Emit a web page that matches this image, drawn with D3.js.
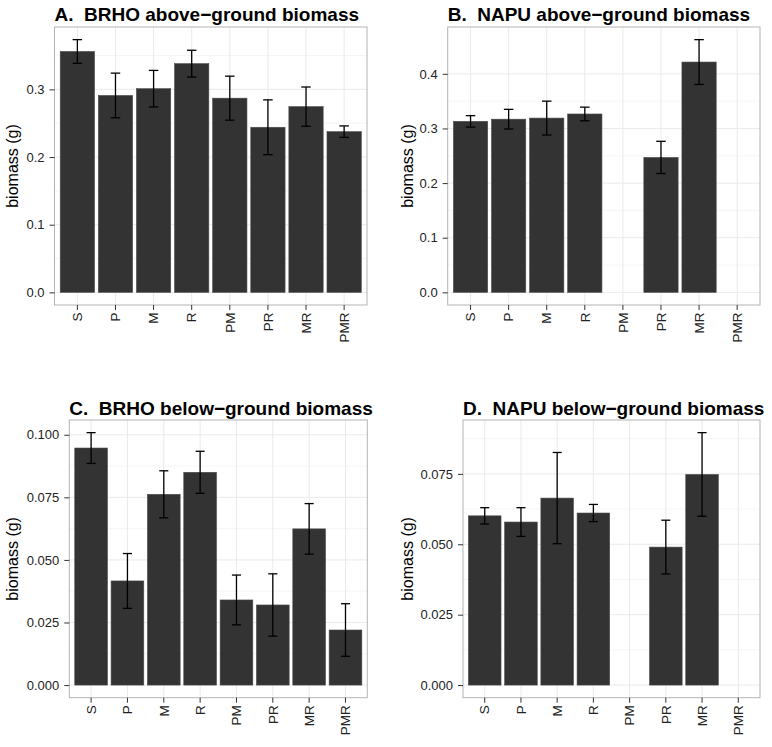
<!DOCTYPE html>
<html>
<head>
<meta charset="utf-8">
<script src="https://cdn.jsdelivr.net/npm/d3@7/dist/d3.min.js"></script>
<style>
  html, body { margin: 0; padding: 0; background: #fff; }
  svg { display: block; }
  text { font-family: "Liberation Sans", Arial, Helvetica, sans-serif; }
</style>
</head>
<body>
<svg id="chart" width="772" height="747"></svg>
<script>
// ---------------- data ----------------
const categories = ["S", "P", "M", "R", "PM", "PR", "MR", "PMR"];

const brhoAboveMean = [0.356, 0.291, 0.301, 0.338, 0.287, 0.244, 0.2745, 0.2375];
const brhoAboveSE   = [0.0175, 0.033, 0.027, 0.0198, 0.0325, 0.0405, 0.029, 0.0085];

const napuAboveMean = [0.313, 0.317, 0.319, 0.3265, null, 0.247, 0.4216, null];
const napuAboveSE   = [0.0105, 0.018, 0.031, 0.0125, null, 0.0295, 0.041, null];

const brhoBelowMean = [0.0947, 0.0416, 0.0762, 0.0850, 0.0340, 0.0320, 0.0624, 0.0220];
const brhoBelowSE   = [0.00615, 0.01095, 0.0094, 0.0084, 0.00995, 0.01245, 0.0101, 0.0105];

const napuBelowMean = [0.0601, 0.0579, 0.0664, 0.0611, null, 0.0490, 0.0748, null];
const napuBelowSE   = [0.0029, 0.0051, 0.0162, 0.00305, null, 0.00955, 0.01485, null];

const titles = [
  "A.  BRHO above\u2212ground biomass",
  "B.  NAPU above\u2212ground biomass",
  "C.  BRHO below\u2212ground biomass",
  "D.  NAPU below\u2212ground biomass"
];
const ticksAbove = [0, 0.1, 0.2, 0.3, 0.4];
const ticksBelow = [0, 0.025, 0.05, 0.075, 0.1];
const yLabel = "biomass (g)";

// ---------------- layout ----------------
const panels = [
  { mean: brhoAboveMean, se: brhoAboveSE, title: titles[0], ticks: ticksAbove, fmt: d3.format(".1f"),
    left: 54.5, right: 367, top: 27, bottom: 305, titleY: 20.5, labelX: 17.5 },
  { mean: napuAboveMean, se: napuAboveSE, title: titles[1], ticks: ticksAbove, fmt: d3.format(".1f"),
    left: 447.7, right: 760, top: 27, bottom: 305, titleY: 20.5, labelX: 412.5 },
  { mean: brhoBelowMean, se: brhoBelowSE, title: titles[2], ticks: ticksBelow, fmt: d3.format(".3f"),
    left: 69.3, right: 367.3, top: 420, bottom: 697.7, titleY: 414.5, labelX: 17.5 },
  { mean: napuBelowMean, se: napuBelowSE, title: titles[3], ticks: ticksBelow, fmt: d3.format(".3f"),
    left: 463, right: 760, top: 420, bottom: 697.7, titleY: 414.5, labelX: 412.5 }
];

const svg = d3.select("#chart");

panels.forEach(p => {
  const rows = categories.map((c, i) => ({ cat: c, mean: p.mean[i], se: p.se[i] }));
  const valid = rows.filter(r => r.mean != null);
  const maxV = d3.max(valid, r => r.mean + r.se);
  const minV = 0;
  const pad = (maxV - minV) * 0.05;

  const x = d3.scaleBand().domain(categories)
    .range([p.left, p.right]).paddingInner(0.1).paddingOuter(0.15);
  const y = d3.scaleLinear().domain([minV - pad, maxV + pad]).range([p.bottom, p.top]);

  const ticks = p.ticks.filter(t => t <= maxV + pad);
  const minor = [];
  for (let i = 0; i < p.ticks.length - 1; i++) {
    const m = (p.ticks[i] + p.ticks[i + 1]) / 2;
    if (m <= maxV + pad) minor.push(m);
  }

  const g = svg.append("g");

  g.append("rect").attr("x", p.left).attr("y", p.top)
    .attr("width", p.right - p.left).attr("height", p.bottom - p.top)
    .attr("fill", "#fff");

  g.selectAll(".minor").data(minor).enter().append("line")
    .attr("x1", p.left).attr("x2", p.right)
    .attr("y1", d => y(d)).attr("y2", d => y(d))
    .attr("stroke", "#f3f3f3").attr("stroke-width", 0.8);

  g.selectAll(".majh").data(ticks).enter().append("line")
    .attr("x1", p.left).attr("x2", p.right)
    .attr("y1", d => y(d)).attr("y2", d => y(d))
    .attr("stroke", "#eaeaea").attr("stroke-width", 1);

  g.selectAll(".majv").data(categories).enter().append("line")
    .attr("y1", p.top).attr("y2", p.bottom)
    .attr("x1", d => x(d) + x.bandwidth() / 2).attr("x2", d => x(d) + x.bandwidth() / 2)
    .attr("stroke", "#eaeaea").attr("stroke-width", 1);

  g.selectAll(".bar").data(valid).enter().append("rect")
    .attr("x", d => x(d.cat)).attr("width", x.bandwidth())
    .attr("y", d => y(d.mean)).attr("height", d => y(0) - y(d.mean))
    .attr("fill", "#333333").attr("stroke", "#4a4a4a").attr("stroke-width", 0.6);

  const capW = x.step() * 0.25;
  const eb = g.selectAll(".eb").data(valid).enter().append("g")
    .attr("stroke", "#000").attr("stroke-width", 1.3).attr("fill", "none");
  const cx = d => x(d.cat) + x.bandwidth() / 2;
  eb.append("line")
    .attr("x1", cx).attr("x2", cx)
    .attr("y1", d => y(d.mean - d.se)).attr("y2", d => y(d.mean + d.se));
  eb.append("line")
    .attr("x1", d => cx(d) - capW / 2).attr("x2", d => cx(d) + capW / 2)
    .attr("y1", d => y(d.mean + d.se)).attr("y2", d => y(d.mean + d.se));
  eb.append("line")
    .attr("x1", d => cx(d) - capW / 2).attr("x2", d => cx(d) + capW / 2)
    .attr("y1", d => y(d.mean - d.se)).attr("y2", d => y(d.mean - d.se));

  g.append("rect").attr("x", p.left).attr("y", p.top)
    .attr("width", p.right - p.left).attr("height", p.bottom - p.top)
    .attr("fill", "none").attr("stroke", "#b3b3b3").attr("stroke-width", 1);

  const yAxis = d3.axisLeft(y).tickValues(ticks).tickFormat(p.fmt).tickSize(5).tickPadding(5);
  const ya = g.append("g").attr("transform", `translate(${p.left},0)`).call(yAxis);
  ya.select(".domain").remove();
  ya.selectAll(".tick line").attr("stroke", "#333").attr("stroke-width", 1);
  ya.selectAll(".tick text").attr("fill", "#222").style("font-size", "13px")
    .style("font-family", '"Liberation Sans", Arial, sans-serif');

  const xAxis = d3.axisBottom(x).tickSize(5).tickPadding(3);
  const xa = g.append("g").attr("transform", `translate(0,${p.bottom})`).call(xAxis);
  xa.select(".domain").remove();
  xa.selectAll(".tick line").attr("stroke", "#333").attr("stroke-width", 1);
  xa.selectAll(".tick text")
    .attr("fill", "#222").style("font-size", "13.5px")
    .style("font-family", '"Liberation Sans", Arial, sans-serif')
    .attr("transform", "rotate(-90)")
    .attr("text-anchor", "end")
    .attr("x", -7.5).attr("y", 0).attr("dy", "0.35em");

  g.append("text")
    .attr("transform", `translate(${p.labelX},${(p.top + p.bottom) / 2}) rotate(-90)`)
    .attr("text-anchor", "middle").attr("fill", "#000")
    .style("font-size", "16px").text(yLabel);

  g.append("text").attr("x", p.left).attr("y", p.titleY)
    .attr("fill", "#000").style("font-size", "19px").style("font-weight", "bold")
    .style("white-space", "pre").attr("xml:space", "preserve")
    .text(p.title);
});
</script>
</body>
</html>
